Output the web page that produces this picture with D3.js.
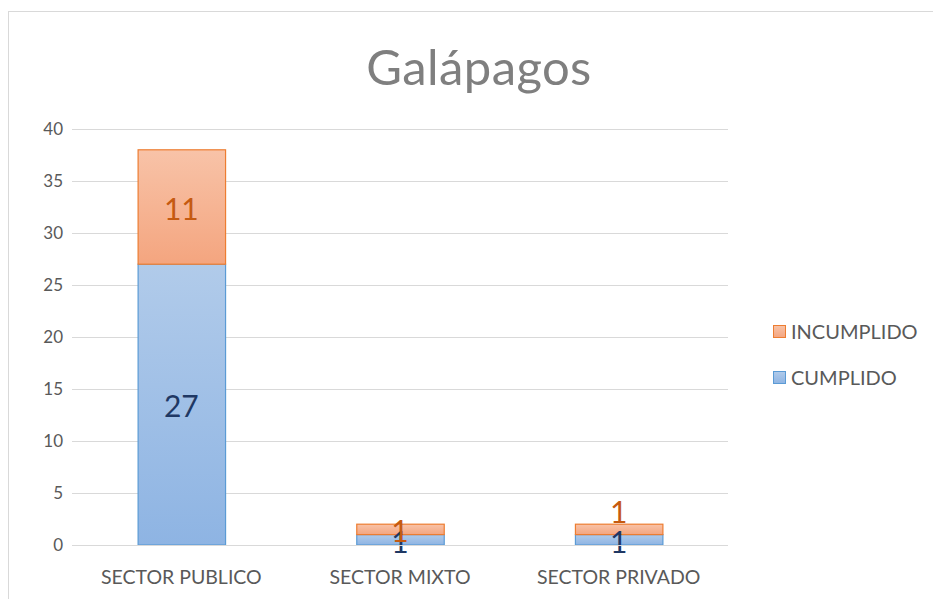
<!DOCTYPE html>
<html><head><meta charset="utf-8">
<script src="https://cdn.jsdelivr.net/npm/d3@7"></script>
<style>body{margin:0;background:#fff}svg{display:block}text{font-family:Lato,"Open Sans",sans-serif}</style>
</head><body>
<svg id="c" width="933" height="599"></svg>
<script>
const categories = ["SECTOR PUBLICO", "SECTOR MIXTO", "SECTOR PRIVADO"];
const cumplido = [27, 1, 1];
const incumplido = [11, 1, 1];
const seriesNames = ["CUMPLIDO", "INCUMPLIDO"];
const yTicks = [0, 5, 10, 15, 20, 25, 30, 35, 40];
const title = "Galápagos";

(function () {
const svg = d3.select("#c");
const W = 933, H = 599;
const pL = 72, pR = 728, pT = 129, pB = 545;

svg.append("rect").attr("x", 8.5).attr("y", 11.5).attr("width", W).attr("height", H)
  .attr("fill", "none").attr("stroke", "#d9d9d9");

const defs = svg.append("defs");
const gB = defs.append("linearGradient").attr("id", "gB").attr("x1", 0).attr("y1", 0).attr("x2", 0).attr("y2", 1);
gB.append("stop").attr("offset", 0).attr("stop-color", "#b1cbea");
gB.append("stop").attr("offset", 1).attr("stop-color", "#8eb4e3");
const gO = defs.append("linearGradient").attr("id", "gO").attr("x1", 0).attr("y1", 0).attr("x2", 0).attr("y2", 1);
gO.append("stop").attr("offset", 0).attr("stop-color", "#f8c3a8");
gO.append("stop").attr("offset", 1).attr("stop-color", "#f4a57f");

const x = d3.scaleBand().domain(categories).range([pL, pR]).paddingInner(0).paddingOuter(0);
const y = d3.scaleLinear().domain([0, 40]).range([pB, pT]);
const bw = x.bandwidth() * 0.4;

svg.append("g").selectAll("line").data(yTicks).join("line")
  .attr("x1", pL).attr("x2", pR)
  .attr("y1", d => Math.round(y(d)) + 0.5).attr("y2", d => Math.round(y(d)) + 0.5)
  .attr("stroke", "#d9d9d9").attr("stroke-width", 1);

const yAxis = d3.axisLeft(y).tickValues(yTicks).tickSize(0).tickPadding(9);
const ga = svg.append("g").attr("transform", `translate(${pL},0)`).call(yAxis);
ga.select(".domain").remove();
ga.selectAll("text").attr("font-size", 17).attr("fill", "#595959").attr("font-family", "Lato");

const xAxis = d3.axisBottom(x).tickSize(0).tickPadding(25);
const gx = svg.append("g").attr("transform", `translate(0,${pB})`).call(xAxis);
gx.select(".domain").remove();
gx.selectAll("text").attr("font-size", 19.5).attr("fill", "#595959").attr("font-family", "Lato");

const data = categories.map((c, i) => ({c, a: cumplido[i], b: incumplido[i]}));
const nudge = {"SECTOR PRIVADO": -19};

const g = svg.append("g");
g.selectAll(".b").data(data).join("rect")
  .attr("x", d => x(d.c) + x.bandwidth() / 2 - bw / 2 + 0.5)
  .attr("width", bw)
  .attr("y", d => y(d.a)).attr("height", d => y(0) - y(d.a))
  .attr("fill", "url(#gB)").attr("stroke", "#5b9bd5").attr("stroke-width", 1.2);
g.selectAll(".o").data(data).join("rect")
  .attr("x", d => x(d.c) + x.bandwidth() / 2 - bw / 2 + 0.5)
  .attr("width", bw)
  .attr("y", d => y(d.a + d.b)).attr("height", d => y(d.a) - y(d.a + d.b))
  .attr("fill", "url(#gO)").attr("stroke", "#ed7d31").attr("stroke-width", 1.2);

svg.append("line").attr("x1", pL).attr("x2", pR).attr("y1", Math.round(y(0)) + 0.5).attr("y2", Math.round(y(0)) + 0.5)
  .attr("stroke", "#d9d9d9");

g.selectAll(".lb").data(data).join("text")
  .attr("x", d => x(d.c) + x.bandwidth() / 2)
  .attr("y", d => y(d.a / 2) + 2).attr("dy", "0.36em")
  .attr("text-anchor", "middle").attr("font-size", 30).attr("fill", "#1f3864")
  .text(d => d.a);
g.selectAll(".lo").data(data).join("text")
  .attr("x", d => x(d.c) + x.bandwidth() / 2)
  .attr("y", d => y(d.a + d.b / 2) + 2 + (nudge[d.c] || 0)).attr("dy", "0.36em")
  .attr("text-anchor", "middle").attr("font-size", 30).attr("fill", "#c55a11")
  .text(d => d.b);

svg.append("text").attr("x", 479).attr("y", 85).attr("text-anchor", "middle")
  .attr("font-size", 49).attr("letter-spacing", 0.4).attr("fill", "#7f7f7f").text(title);

const leg = [{n: seriesNames[1], f: "url(#gO)", s: "#ed7d31", y: 331}, {n: seriesNames[0], f: "url(#gB)", s: "#5b9bd5", y: 377}];
const lg = svg.append("g").selectAll("g").data(leg).join("g").attr("transform", d => `translate(773,${d.y})`);
lg.append("rect").attr("x", 0.5).attr("y", -5.5).attr("width", 12).attr("height", 12)
  .attr("fill", d => d.f).attr("stroke", d => d.s);
lg.append("text").attr("x", 18).attr("y", 1).attr("dy", "0.36em").attr("font-size", 20).attr("fill", "#595959").text(d => d.n);
})();
</script>
</body></html>
